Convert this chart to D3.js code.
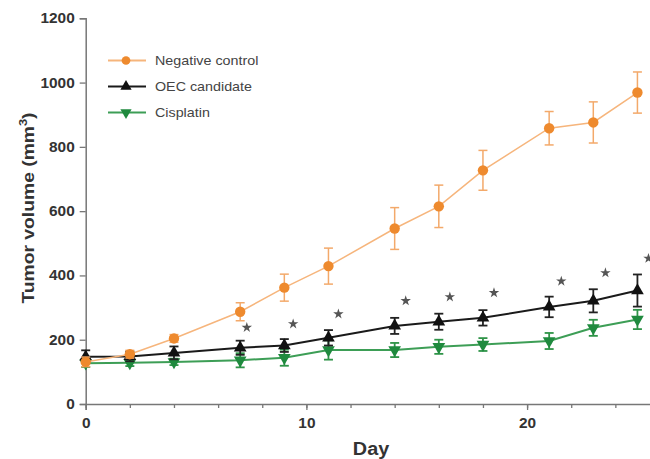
<!DOCTYPE html>
<html><head><meta charset="utf-8">
<script src="https://cdn.jsdelivr.net/npm/d3@7"></script>
<style>body{margin:0;background:#fff;} svg{display:block;}</style>
</head><body>
<svg id="c" width="650" height="459"></svg>
<script>
const days = [0,2,4,7,9,11,14,16,18,21,23,25];
const negMean = [131,155,204,287,362,429,546,615,727,858,876,969];
const negErr  = [15,12,12,28,42,56,65,66,62,52,64,64];
const oecMean = [147,148,159,175,182,206,243,256,268,302,321,353];
const oecErr  = [20,15,20,22,20,24,25,25,24,32,36,50];
const cisMean = [127,128,131,136,144,168,168,178,185,196,237,263];
const cisErr  = [12,10,10,22,25,30,22,22,20,25,25,30];
const starDays = [7.3,9.4,11.45,14.5,16.5,18.5,21.55,23.55,25.5];
const starValues = [238,249,280,321,333,346,382,408,453];
const yTicks = [0,200,400,600,800,1000,1200];
const xTicks = [0,10,20];
const xMinor = [0,2,4,6,8,10,12,14,16,18,20,22,24];
const seriesNames = ["Negative control","OEC candidate","Cisplatin"];

const FONT = "Liberation Sans, Arial, sans-serif";
const svg = d3.select("#c");
const x = d3.scaleLinear().domain([0,26]).range([85.7,659.5]);
const y = d3.scaleLinear().domain([0,1200]).range([404,18.3]);
const axisColor = "#777";

function stretch(sel, f) {
  sel.each(function(){
    const w = this.getComputedTextLength();
    d3.select(this).attr("textLength", w*f).attr("lengthAdjust","spacingAndGlyphs");
  });
}

// axes
svg.append("g").attr("transform","translate(85.7,0)")
  .call(d3.axisLeft(y).tickValues(yTicks).tickSize(6).tickPadding(5).tickFormat(d3.format("d")));
svg.append("g").attr("transform","translate(0,404)")
  .call(d3.axisBottom(x).tickValues(xTicks).tickSize(6).tickPadding(8).tickFormat(d3.format("d")));
svg.append("g").attr("transform","translate(0,404)")
  .call(d3.axisBottom(x).tickValues(xMinor).tickSize(4).tickFormat(""))
  .select(".domain").remove();
svg.selectAll(".domain").attr("stroke",axisColor).attr("stroke-width",1.5);
svg.selectAll(".tick line").attr("stroke",axisColor).attr("stroke-width",1.3);
const tt = svg.selectAll(".tick text").attr("fill","#333").style("font-family",FONT)
  .style("font-size","14px").style("font-weight","bold");
stretch(tt, 1.1);

// axis titles
svg.append("text").attr("transform","translate(34,208) rotate(-90) scale(1.17,1)").attr("text-anchor","middle")
  .style("font-family",FONT).style("font-size","16.5px").style("font-weight","bold")
  .attr("fill","#333")
  .html('Tumor volume (mm<tspan dy="-7" font-size="11px">3</tspan><tspan dy="7">)</tspan>');
const dayT = svg.append("text").attr("x",371).attr("y",455).attr("text-anchor","middle")
  .style("font-family",FONT).style("font-size","18px").style("font-weight","bold")
  .attr("fill","#333").text("Day");
stretch(dayT, 1.1);

function drawSeries(mean, err, lineColor, markColor, barColor, sym, rot, lw, bw) {
  const g = svg.append("g");
  const pts = days.map((d,i)=>({d, m:mean[i], e:err[i]}));
  g.append("path").datum(pts).attr("fill","none").attr("stroke",lineColor).attr("stroke-width",lw)
    .attr("d", d3.line().x(p=>x(p.d)).y(p=>y(p.m)));
  const eb = g.selectAll(".eb").data(pts).enter().append("g");
  eb.append("line").attr("x1",p=>x(p.d)).attr("x2",p=>x(p.d)).attr("y1",p=>y(p.m+p.e)).attr("y2",p=>y(p.m-p.e))
    .attr("stroke",barColor).attr("stroke-width",bw);
  eb.append("line").attr("x1",p=>x(p.d)-4.5).attr("x2",p=>x(p.d)+4.5).attr("y1",p=>y(p.m+p.e)).attr("y2",p=>y(p.m+p.e))
    .attr("stroke",barColor).attr("stroke-width",bw);
  eb.append("line").attr("x1",p=>x(p.d)-4.5).attr("x2",p=>x(p.d)+4.5).attr("y1",p=>y(p.m-p.e)).attr("y2",p=>y(p.m-p.e))
    .attr("stroke",barColor).attr("stroke-width",bw);
  g.selectAll(".mk").data(pts).enter().append("path")
    .attr("d", d3.symbol().type(sym).size(sym===d3.symbolCircle?85:70))
    .attr("transform", p=>`translate(${x(p.d)},${y(p.m)}) rotate(${rot})`)
    .attr("fill",markColor);
}
drawSeries(cisMean, cisErr, "#3d9e56", "#1f8a3e", "#2f9448", d3.symbolTriangle, 180, 2, 1.8);
drawSeries(oecMean, oecErr, "#1a1a1a", "#111", "#222", d3.symbolTriangle, 0, 2, 1.8);
drawSeries(negMean, negErr, "#f6b57c", "#ee8a2e", "#f3a96a", d3.symbolCircle, 0, 1.5, 1.5);

// significance stars
svg.append("g").selectAll("path").data(starDays.map((d,i)=>({d, v:starValues[i]}))).enter().append("path")
  .attr("d", d3.symbol().type(d3.symbolStar).size(34))
  .attr("transform", s=>`translate(${x(s.d)},${y(s.v)})`)
  .attr("fill","#555");

// legend
const leg = [
  {name:seriesNames[0], lc:"#f6b57c", mc:"#ee8a2e", sym:d3.symbolCircle, rot:0, sz:60},
  {name:seriesNames[1], lc:"#1a1a1a", mc:"#111", sym:d3.symbolTriangle, rot:0, sz:55},
  {name:seriesNames[2], lc:"#3d9e56", mc:"#1f8a3e", sym:d3.symbolTriangle, rot:180, sz:55}
];
const lg = svg.append("g");
leg.forEach((l,i)=>{
  const yy = 60.5 + i*26;
  lg.append("line").attr("x1",108).attr("x2",146).attr("y1",yy).attr("y2",yy).attr("stroke",l.lc).attr("stroke-width",1.8);
  lg.append("path").attr("d",d3.symbol().type(l.sym).size(l.sz)).attr("transform",`translate(126,${yy}) rotate(${l.rot})`).attr("fill",l.mc);
  const t = lg.append("text").attr("x",155).attr("y",yy+4.5).style("font-family",FONT)
    .style("font-size","13px").attr("fill","#444").text(l.name);
  stretch(t, 1.1);
});
</script>
</body></html>
